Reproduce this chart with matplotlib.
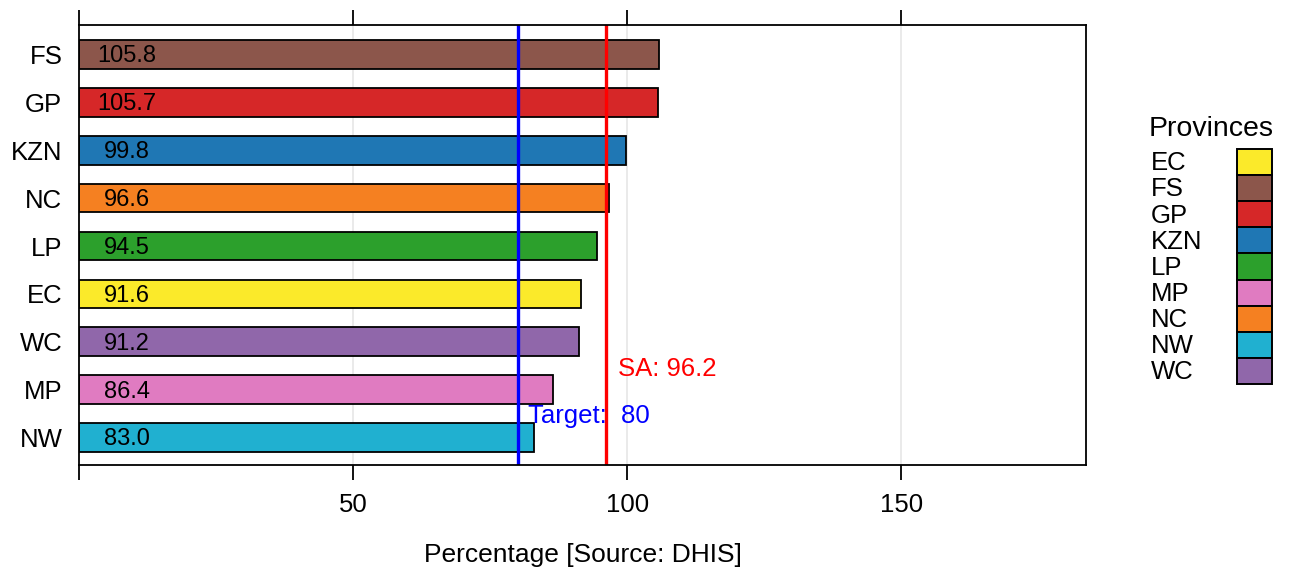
import matplotlib
matplotlib.use("Agg")
import matplotlib.pyplot as plt
import matplotlib.transforms as mtransforms

plt.rcParams['font.family'] = ['Liberation Sans', 'DejaVu Sans']

# Data (bottom to top order in the chart)
provinces = ["NW", "MP", "WC", "EC", "LP", "NC", "KZN", "GP", "FS"]
values = [83.0, 86.4, 91.2, 91.6, 94.5, 96.6, 99.8, 105.7, 105.8]
colors_map = {
    "EC": "#fbea2a", "FS": "#8c564b", "GP": "#d62728", "KZN": "#1f77b4",
    "LP": "#2ca02c", "MP": "#e07bc1", "NC": "#f58021", "NW": "#20b0d0",
    "WC": "#9067aa",
}
legend_order = ["EC", "FS", "GP", "KZN", "LP", "MP", "NC", "NW", "WC"]
target = 80
sa_value = 96.2
xticks = [0, 50, 100, 150]
xticklabels = ["", "50", "100", "150"]

W, H = 1291, 574
fig = plt.figure(figsize=(W / 100, H / 100), dpi=100)
ax = fig.add_axes([79 / W, 1 - 465 / H, (1086 - 79) / W, (465 - 25) / H])

ypos = list(range(1, len(provinces) + 1))
for x in [50, 100, 150]:
    ax.axvline(x, color="#e4e4e4", lw=1.1, zorder=0)

ax.barh(ypos, values, height=0.6, color=[colors_map[p] for p in provinces],
        edgecolor="black", linewidth=1.3, zorder=2)
for y, v in zip(ypos, values):
    ax.text(8.8, y - 0.04, f"{v:.1f}", ha="center", va="center", fontsize=17,
            zorder=4)

ax.axvline(target, color="#0000ff", lw=2.4, zorder=3)
ax.axvline(sa_value, color="#ff0000", lw=2.4, zorder=3)
ax.text(98.4, 2.44, f"SA: {sa_value}", color="#ff0000", fontsize=18.5,
        ha="left", va="center", zorder=4)
ax.text(81.9, 1.45, f"Target:  {target}", color="#0000ff", fontsize=18.5,
        ha="left", va="center", zorder=4)

ax.set_xlim(0, 183.7)
ax.set_ylim(0.426, 9.616)
ax.set_yticks(ypos)
ax.set_yticklabels(provinces)
ax.set_xticks(xticks)
ax.set_xticklabels(xticklabels)
ax.tick_params(axis="x", which="both", direction="out", length=10.8, width=1.3,
               top=True, bottom=True, labeltop=False, labelbottom=True,
               labelsize=18.5, pad=9)
ax.tick_params(axis="y", length=0, pad=12, labelsize=18.5)
for s in ax.spines.values():
    s.set_linewidth(1.3)
    s.set_zorder(5)

fig.text(582.5 / W, 1 - 555 / H, "Percentage [Source: DHIS]", ha="center",
         va="center", fontsize=19)

# Legend drawn in its own axes
lax = fig.add_axes([1237 / W, 1 - 384 / H, 35 / W, 235 / H])
lpos = list(range(len(legend_order)))
lax.barh(lpos, [1] * len(legend_order), height=1, left=0,
         color=[colors_map[p] for p in legend_order], edgecolor="black",
         linewidth=1.4, clip_on=False)
lax.set_xlim(0, 1)
lax.set_ylim(len(legend_order) - 0.5, -0.5)
lax.axis("off")
trans = mtransforms.blended_transform_factory(lax.transAxes, lax.transData)
for i, p in enumerate(legend_order):
    lax.text((1151 - 1237) / 35, i + 0.05, p, transform=trans, ha="left",
             va="center", fontsize=18.5)
fig.text(1211 / W, 1 - 129 / H, "Provinces", ha="center", va="center",
         fontsize=20.5)

fig.savefig("out.png", dpi=100)
